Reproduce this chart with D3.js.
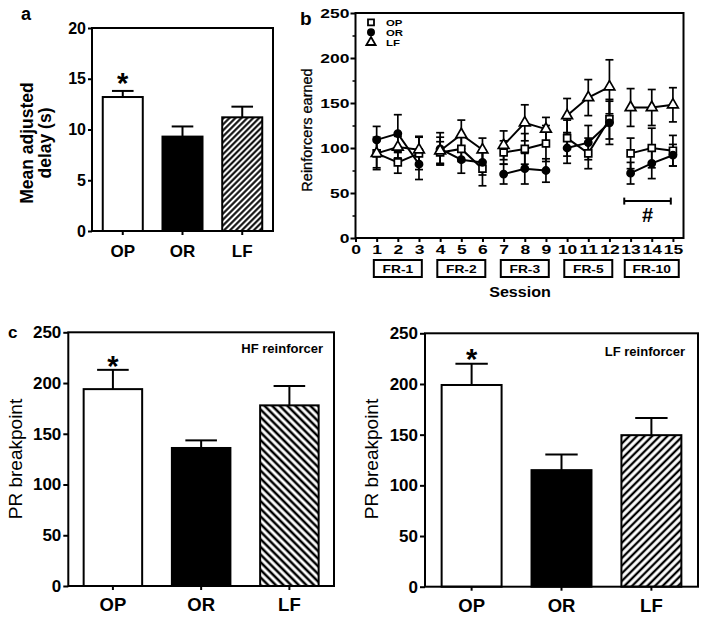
<!DOCTYPE html>
<html><head><meta charset="utf-8">
<script src="https://cdn.jsdelivr.net/npm/d3@7"></script>
<style>body{margin:0;background:#fff}svg{display:block}text{font-family:"Liberation Sans",Arial,sans-serif;fill:#000}</style>
</head><body><svg id="c" width="704" height="619"></svg>
<script>
// ---------- data ----------
const groups = ["OP", "OR", "LF"];
// panel a
const delayMean = [13.2, 9.3, 11.2];
const delaySem = [0.6, 1.0, 1.05];
const delayTicks = [0, 5, 10, 15, 20];
// panel b
const sessions = [1,2,3,4,5,6,7,8,9,10,11,12,13,14,15];
const sessionTicks = [0,1,2,3,4,5,6,7,8,9,10,11,12,13,14,15];
const sessionPhase = [0,0,0,1,1,1,2,2,2,3,3,3,4,4,4];
const phases = ["FR-1", "FR-2", "FR-3", "FR-5", "FR-10"];
const phaseCenter = [2, 5, 8, 11, 14];
const opMean = [94, 84, 94, 95, 99, 77, 95, 99, 105, 111, 94, 132, 94, 100, 97];
const opSem  = [16, 12, 18, 12, 14, 19, 13, 17, 20, 20, 17, 22, 17, 22, 17];
const orMean = [109, 116, 82, 99, 87, 84, 71, 77, 75, 100, 106, 128, 72, 83, 92];
const orSem  = [15, 21, 17, 18, 15, 14, 11, 17, 13, 17, 19, 24, 12, 17, 12];
const lfMean = [94, 101, 98, 97, 115, 98, 103, 128, 121, 136, 156, 168, 145, 145, 148];
const lfSem  = [18, 12, 15, 15, 16, 13, 16, 20, 13, 19, 20, 30, 21, 20, 19];
const reinfTicks = [0, 50, 100, 150, 200, 250];
const reinfMinor = [25, 75, 125, 175, 225];
const hashSpan = [12.7, 14.9];
const hashLevel = 41;
// panel c
const hfMean = [194, 136, 178];
const hfSem = [19, 7.5, 19];
const lfrMean = [199, 115, 149.5];
const lfrSem = [21, 15.5, 17];
const prTicks = [0, 50, 100, 150, 200, 250];

// ---------- drawing ----------
const svg = d3.select("#c");
const defs = svg.append("defs");
function hatch(id, angle, spacing, width) {
  const p = defs.append("pattern").attr("id", id).attr("patternUnits", "userSpaceOnUse")
    .attr("width", spacing).attr("height", spacing).attr("patternTransform", `rotate(${angle})`);
  p.append("rect").attr("width", spacing).attr("height", spacing).attr("fill", "#fff");
  p.append("line").attr("x1", spacing / 2).attr("x2", spacing / 2).attr("y1", -1).attr("y2", spacing + 1)
    .attr("stroke", "#000").attr("stroke-width", width);
}
hatch("hA", 45, 4.2, 2.0);
hatch("hC1", -45, 5.4, 2.5);
hatch("hC2", 45, 5.4, 2.3);

function barPanel(o) {
  const g = svg.append("g");
  const x = d3.scaleBand().domain(groups).range(o.xr).paddingInner(o.pi).paddingOuter(o.po);
  const y = d3.scaleLinear().domain([0, o.ymax]).range(o.yr);
  g.selectAll("rect.bar").data(groups).join("rect").attr("class", "bar")
    .attr("x", d => x(d)).attr("width", x.bandwidth())
    .attr("y", (d, i) => y(o.mean[i])).attr("height", (d, i) => y(0) - y(o.mean[i]))
    .attr("fill", (d, i) => o.fills[i]).attr("stroke", "#000").attr("stroke-width", 2);
  const cw = x.bandwidth() * 0.27;
  const eg = g.selectAll("g.err").data(groups).join("g").attr("class", "err")
    .attr("stroke", "#000").attr("stroke-width", 2);
  eg.append("line").attr("x1", d => x(d) + x.bandwidth() / 2).attr("x2", d => x(d) + x.bandwidth() / 2)
    .attr("y1", (d, i) => y(o.mean[i])).attr("y2", (d, i) => y(o.mean[i] + o.sem[i]));
  eg.append("line").attr("x1", d => x(d) + x.bandwidth() / 2 - cw).attr("x2", d => x(d) + x.bandwidth() / 2 + cw)
    .attr("y1", (d, i) => y(o.mean[i] + o.sem[i])).attr("y2", (d, i) => y(o.mean[i] + o.sem[i]));
  // frame
  g.append("rect").attr("x", o.xr[0]).attr("y", o.yr[1]).attr("width", o.xr[1] - o.xr[0])
    .attr("height", o.yr[0] - o.yr[1]).attr("fill", "none").attr("stroke", "#000").attr("stroke-width", 2);
  // y axis
  const ya = g.append("g").attr("transform", `translate(${o.xr[0]},0)`)
    .call(d3.axisLeft(y).tickValues(o.ticks).tickSize(o.tick).tickPadding(2).tickSizeOuter(0));
  ya.select(".domain").remove();
  ya.selectAll("line").attr("stroke-width", 2);
  ya.selectAll("text").style("font-size", o.tickFont + "px").style("font-weight", "bold");
  // x axis
  const xa = g.append("g").attr("transform", `translate(0,${o.yr[0]})`)
    .call(d3.axisBottom(x).tickSize(4).tickPadding(o.xpad).tickSizeOuter(0));
  xa.select(".domain").remove();
  xa.selectAll("line").attr("stroke-width", 2);
  xa.selectAll("text").style("font-size", o.xFont + "px").style("font-weight", "bold");
  // star
  g.append("text").attr("x", x("OP") + x.bandwidth() / 2)
    .attr("y", y(o.mean[0] + o.sem[0]) + o.starDy).attr("text-anchor", "middle")
    .style("font-size", o.starFont + "px").style("font-weight", "bold").text("*");
  return {g, x, y};
}

// panel a
const A = barPanel({xr: [92, 273], yr: [231, 28], pi: 0.33, po: 0.18, ymax: 20, mean: delayMean, sem: delaySem,
  fills: ["#fff", "#000", "url(#hA)"], ticks: delayTicks, tick: 4, tickFont: 16, xFont: 17, xpad: 10,
  starFont: 29, starDy: 2.5});
A.g.append("text").attr("transform", "translate(33,143) rotate(-90)").attr("text-anchor", "middle")
  .style("font-size", "17.5px").style("font-weight", "bold").text("Mean adjusted");
A.g.append("text").attr("transform", "translate(51,143) rotate(-90)").attr("text-anchor", "middle")
  .style("font-size", "17.5px").style("font-weight", "bold").text("delay (s)");
svg.append("text").attr("x", 21).attr("y", 20).style("font-size", "18px").style("font-weight", "bold").text("a");

// panel c left
const C1 = barPanel({xr: [68.3, 334], yr: [586, 332.3], pi: 0.337, po: 0.174, ymax: 250, mean: hfMean, sem: hfSem,
  fills: ["#fff", "#000", "url(#hC1)"], ticks: prTicks, tick: 5, tickFont: 17, xFont: 18.5, xpad: 8,
  starFont: 29, starDy: 6.5});
C1.g.append("text").attr("x", 323).attr("y", 353).attr("text-anchor", "end")
  .style("font-size", "13px").style("font-weight", "bold").text("HF reinforcer");
C1.g.append("text").attr("transform", "translate(22,459) rotate(-90)").attr("text-anchor", "middle")
  .style("font-size", "19px").text("PR breakpoint");
svg.append("text").attr("x", 8).attr("y", 338).style("font-size", "17px").style("font-weight", "bold").text("c");

// panel c right
const C2 = barPanel({xr: [425, 698], yr: [586.7, 333.3], pi: 0.333, po: 0.185, ymax: 250, mean: lfrMean, sem: lfrSem,
  fills: ["#fff", "#000", "url(#hC2)"], ticks: prTicks, tick: 5, tickFont: 17, xFont: 18.5, xpad: 8,
  starFont: 29, starDy: 5.3});
C2.g.append("text").attr("x", 685).attr("y", 356).attr("text-anchor", "end")
  .style("font-size", "13px").style("font-weight", "bold").text("LF reinforcer");
C2.g.append("text").attr("transform", "translate(378,459) rotate(-90)").attr("text-anchor", "middle")
  .style("font-size", "19px").text("PR breakpoint");

// panel b
const gb = svg.append("g");
const xB = d3.scaleLinear().domain([0, 15.5]).range([355.5, 683.5]);
const yB = d3.scaleLinear().domain([0, 250]).range([238, 13]);
const SX = 1.4;
gb.append("rect").attr("x", xB(0)).attr("y", yB(250)).attr("width", xB(15.5) - xB(0)).attr("height", yB(0) - yB(250))
  .attr("fill", "none").attr("stroke", "#000").attr("stroke-width", 2);
const yab = gb.append("g").attr("transform", `translate(${xB(0)},0)`)
  .call(d3.axisLeft(yB).tickValues(reinfTicks).tickSize(5).tickSizeOuter(0));
yab.select(".domain").remove();
yab.selectAll("line").attr("stroke-width", 2);
yab.selectAll("text").attr("x", -6 / SX).attr("transform", `scale(${SX},1)`)
  .style("font-size", "12.5px").style("font-weight", "bold");
const yabm = gb.append("g").attr("transform", `translate(${xB(0)},0)`)
  .call(d3.axisLeft(yB).tickValues(reinfMinor).tickSize(3).tickFormat("").tickSizeOuter(0));
yabm.select(".domain").remove();
yabm.selectAll("line").attr("stroke-width", 1.5);
const xab = gb.append("g").attr("transform", `translate(0,${yB(0)})`)
  .call(d3.axisBottom(xB).tickValues(sessionTicks).tickSize(4).tickPadding(3.5).tickSizeOuter(0));
xab.select(".domain").remove();
xab.selectAll("line").attr("stroke-width", 2);
xab.selectAll("text").attr("transform", `scale(${SX},1)`).style("font-size", "12.5px").style("font-weight", "bold");

const series = [
  {name: "OP", mean: opMean, sem: opSem, sym: d3.symbolSquare, size: 48, fill: "#fff"},
  {name: "OR", mean: orMean, sem: orSem, sym: d3.symbolCircle, size: 40, fill: "#000"},
  {name: "LF", mean: lfMean, sem: lfSem, sym: d3.symbolTriangle, size: 50, fill: "#fff"}
];
const line = d3.line().x(d => xB(d.s)).y(d => yB(d.v));
series.forEach(se => {
  const pts = sessions.map((s, i) => ({s, v: se.mean[i], e: se.sem[i], p: sessionPhase[i]}));
  const eg = gb.append("g").attr("stroke", "#000").attr("stroke-width", 1.7);
  pts.forEach(d => {
    eg.append("line").attr("x1", xB(d.s)).attr("x2", xB(d.s)).attr("y1", yB(d.v - d.e)).attr("y2", yB(d.v + d.e));
    [d.v - d.e, d.v + d.e].forEach(v => eg.append("line").attr("x1", xB(d.s) - 4).attr("x2", xB(d.s) + 4)
      .attr("y1", yB(v)).attr("y2", yB(v)));
  });
  phases.forEach((ph, pi) => {
    gb.append("path").datum(pts.filter(d => d.p === pi)).attr("d", line)
      .attr("fill", "none").attr("stroke", "#000").attr("stroke-width", 2);
  });
  se.pts = pts;
});
series.forEach(se => {
  gb.selectAll(null).data(se.pts).join("path")
    .attr("transform", d => `translate(${xB(d.s)},${yB(d.v)})`)
    .attr("d", d3.symbol().type(se.sym).size(se.size))
    .attr("fill", se.fill).attr("stroke", "#000").attr("stroke-width", 1.7);
});
// legend
series.forEach((se, i) => {
  const ly = 22.3 + i * 10;
  gb.append("path").attr("transform", `translate(371,${ly})`).attr("d", d3.symbol().type(se.sym).size(se.size * 0.75))
    .attr("fill", se.fill).attr("stroke", "#000").attr("stroke-width", 1.8);
  gb.append("text").attr("transform", `translate(386,${ly + 3.5}) scale(1.2,1)`)
    .style("font-size", "9.5px").style("font-weight", "bold").text(se.name);
});
// phase boxes
phases.forEach((ph, i) => {
  const w = ph.length > 4 ? 54 : 48;
  gb.append("rect").attr("x", xB(phaseCenter[i]) - w / 2).attr("y", 260).attr("width", w).attr("height", 17)
    .attr("fill", "#fff").attr("stroke", "#000").attr("stroke-width", 2);
  gb.append("text").attr("transform", `translate(${xB(phaseCenter[i])},272.5) scale(1.2,1)`).attr("text-anchor", "middle")
    .style("font-size", "11.5px").style("font-weight", "bold").text(ph);
});
gb.append("text").attr("transform", "translate(520,297) scale(1.15,1)").attr("text-anchor", "middle")
  .style("font-size", "14px").style("font-weight", "bold").text("Session");
gb.append("text").attr("transform", "translate(312,130) rotate(-90)").attr("text-anchor", "middle")
  .style("font-size", "14.5px").style("stroke", "#000").style("stroke-width", 0.3).text("Reinforcers earned");
svg.append("text").attr("x", 300).attr("y", 25).style("font-size", "19px").style("font-weight", "bold").text("b");
// # bracket
const hb = gb.append("g").attr("stroke", "#000").attr("stroke-width", 2);
hb.append("line").attr("x1", xB(hashSpan[0])).attr("x2", xB(hashSpan[1])).attr("y1", yB(hashLevel)).attr("y2", yB(hashLevel));
hashSpan.forEach(s => hb.append("line").attr("x1", xB(s)).attr("x2", xB(s)).attr("y1", yB(hashLevel) - 3.5).attr("y2", yB(hashLevel) + 3.5));
gb.append("text").attr("x", xB((hashSpan[0] + hashSpan[1]) / 2)).attr("y", yB(hashLevel) + 21).attr("text-anchor", "middle")
  .style("font-size", "20px").style("font-weight", "bold").text("#");
</script></body></html>
